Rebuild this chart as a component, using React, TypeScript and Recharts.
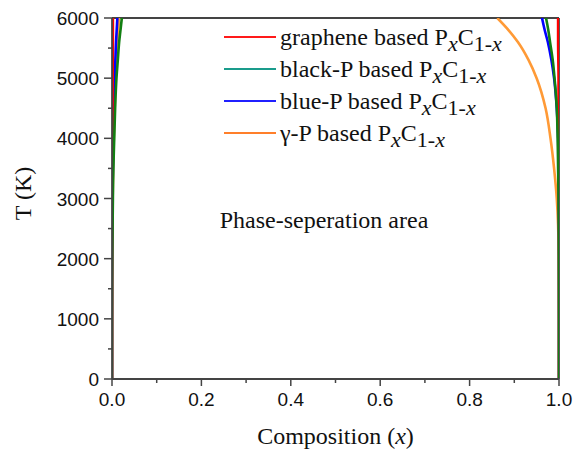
import { LineChart, Line, XAxis, YAxis, ReferenceLine, Legend } from 'recharts'

// temperature grid (K) shared by all boundary curves
const tempK = [0, 1000, 2000, 3000, 3500, 4000, 4500, 5000, 5300, 5600, 5800, 6000]

// left (C-rich) boundary, composition x
const grapheneLeft = [0, 0.0001, 0.0002, 0.0005, 0.0007, 0.001, 0.0012, 0.0015, 0.0017, 0.0019, 0.002, 0.002]
const blackPLeft = [0, 0.0001, 0.0005, 0.002, 0.003, 0.005, 0.007, 0.01, 0.013, 0.016, 0.019, 0.022]
const bluePLeft = [0, 0, 0.0003, 0.001, 0.002, 0.003, 0.0045, 0.006, 0.0075, 0.009, 0.0105, 0.012]
const gammaPLeft = [0, 0, 0.0004, 0.0015, 0.0025, 0.004, 0.006, 0.008, 0.01, 0.012, 0.014, 0.016]

// right (P-rich) boundary, composition x
const grapheneRight = [1, 1, 1, 1, 0.9995, 0.9995, 0.999, 0.999, 0.9985, 0.998, 0.998, 0.998]
const blackPRight = [1, 1, 0.9997, 0.999, 0.998, 0.997, 0.995, 0.99, 0.986, 0.98, 0.976, 0.971]
const bluePRight = [1, 1, 1, 0.9995, 0.999, 0.998, 0.995, 0.989, 0.983, 0.975, 0.968, 0.962]
const gammaPRight = [1, 1, 0.9995, 0.995, 0.989, 0.981, 0.97, 0.95, 0.932, 0.908, 0.887, 0.862]

const xTicks = [0, 0.1, 0.2, 0.3, 0.4, 0.5, 0.6, 0.7, 0.8, 0.9, 1.0]
const yTicks = [0, 500, 1000, 1500, 2000, 2500, 3000, 3500, 4000, 4500, 5000, 5500, 6000]

const legendNames = ['graphene', 'black-P', 'blue-P', 'γ-P']
const legendColors = ['#ff1a1a', '#1a9c8c', '#2020ff', '#ff7f2a']

const toPoints = (xs: number[]) => tempK.map((t, i) => ({ x: xs[i], t }))

const series = [
  { key: 'gammaP', color: '#ff9a36', left: gammaPLeft, right: gammaPRight },
  { key: 'blueP', color: '#0000ff', left: bluePLeft, right: bluePRight },
  { key: 'graphene', color: '#ff0000', left: grapheneLeft, right: grapheneRight },
  { key: 'blackP', color: '#127f12', left: blackPLeft, right: blackPRight },
]

const AXIS = '#444'
const SANS = 'Liberation Sans, Arial, sans-serif'
const SERIF = 'Liberation Serif, Times New Roman, Tinos, DejaVu Serif, serif'

const XTick = ({ x, y, payload }: any) => {
  const v = payload.value
  const major = Math.round(v * 10) % 2 === 0
  return (
    <g>
      <line x1={x} x2={x} y1={y} y2={y + (major ? 7 : 4)} stroke={AXIS} strokeWidth={1.5} />
      {major && (
        <text x={x} y={y + 27} textAnchor="middle" style={{ fontFamily: SANS }} fontSize={19} fill="#111">
          {v.toFixed(1)}
        </text>
      )}
    </g>
  )
}

const YTick = ({ x, y, payload }: any) => {
  const v = payload.value
  const major = v % 1000 === 0
  return (
    <g>
      <line x1={x - (major ? 8 : 4)} x2={x} y1={y} y2={y} stroke={AXIS} strokeWidth={1.5} />
      {major && (
        <text x={x - 13} y={y + 7} textAnchor="end" style={{ fontFamily: SANS }} fontSize={19} fill="#111">
          {v}
        </text>
      )}
    </g>
  )
}

const sub: React.CSSProperties = { fontSize: 22, position: 'relative', top: 6 }

const renderLegend = () => (
  <div style={{ fontFamily: SERIF, fontSize: 24, color: '#111' }}>
    {legendNames.map((name, i) => (
      <div key={name} style={{ display: 'flex', alignItems: 'center', height: 32, whiteSpace: 'nowrap' }}>
        <svg width={58} height={10}>
          <line x1={2} x2={54} y1={5} y2={5} stroke={legendColors[i]} strokeWidth={2} />
        </svg>
        <span>
          {name} based P<span style={{ ...sub, fontStyle: 'italic' }}>x</span>C
          <span style={sub}>1-</span>
          <span style={{ ...sub, fontStyle: 'italic' }}>x</span>
        </span>
      </div>
    ))}
  </div>
)

export default function App() {
  return (
    <div style={{ position: 'absolute', left: 0, top: 0, width: 574, height: 451, background: '#fff', fontFamily: SERIF }}>
      <LineChart width={574} height={451} margin={{ top: 18, right: 15, bottom: 32, left: 52 }}>
        <XAxis
          dataKey="x"
          type="number"
          domain={[0, 1]}
          ticks={xTicks}
          interval={0}
          height={40}
          allowDataOverflow
          axisLine={{ stroke: AXIS, strokeWidth: 1.8 }}
          tickLine={false}
          tickSize={0}
          tickMargin={0}
          tick={<XTick />}
          label={({ viewBox }: any) => (
            <text
              x={viewBox.x + viewBox.width / 2}
              y={viewBox.y + 65}
              textAnchor="middle"
              style={{ fontFamily: SERIF }}
              fontSize={24}
              fill="#111"
            >
              Composition (<tspan fontStyle="italic">x</tspan>)
            </text>
          )}
        />
        <YAxis
          dataKey="t"
          type="number"
          domain={[0, 6000]}
          ticks={yTicks}
          interval={0}
          width={60}
          allowDataOverflow
          axisLine={{ stroke: AXIS, strokeWidth: 1.8 }}
          tickLine={false}
          tickSize={0}
          tickMargin={0}
          tick={<YTick />}
          label={({ viewBox }: any) => {
            const cy = viewBox.y + viewBox.height / 2 - 5
            return (
              <text
                x={31}
                y={cy}
                transform={`rotate(-90, 31, ${cy})`}
                textAnchor="middle"
                style={{ fontFamily: SERIF }}
                fontSize={24}
                fill="#111"
              >
                T (K)
              </text>
            )
          }}
        />
        <ReferenceLine y={6000} stroke={AXIS} strokeWidth={1.8} />
        <ReferenceLine x={1} stroke={AXIS} strokeWidth={1.8} />
        {series.map((s) => [
          <Line
            key={s.key + '-l'}
            data={toPoints(s.left)}
            dataKey="t"
            type="monotoneY"
            stroke={s.color}
            strokeWidth={2.6}
            dot={false}
            legendType="none"
            isAnimationActive={false}
          />,
          <Line
            key={s.key + '-r'}
            data={toPoints(s.right)}
            dataKey="t"
            type="monotoneY"
            stroke={s.color}
            strokeWidth={2.6}
            dot={false}
            legendType="none"
            isAnimationActive={false}
          />,
        ])}
        <Legend
          layout="vertical"
          align="center"
          verticalAlign="middle"
          content={renderLegend}
          wrapperStyle={{ left: 222, top: 21, width: 'auto' }}
        />
      </LineChart>
      <svg
        width={574}
        height={451}
        style={{ position: 'absolute', left: 0, top: 0, pointerEvents: 'none' }}
      >
        <text x={324} y={228} textAnchor="middle" style={{ fontFamily: SERIF }} fontSize={24} fill="#111">
          Phase-seperation area
        </text>
      </svg>
    </div>
  )
}
